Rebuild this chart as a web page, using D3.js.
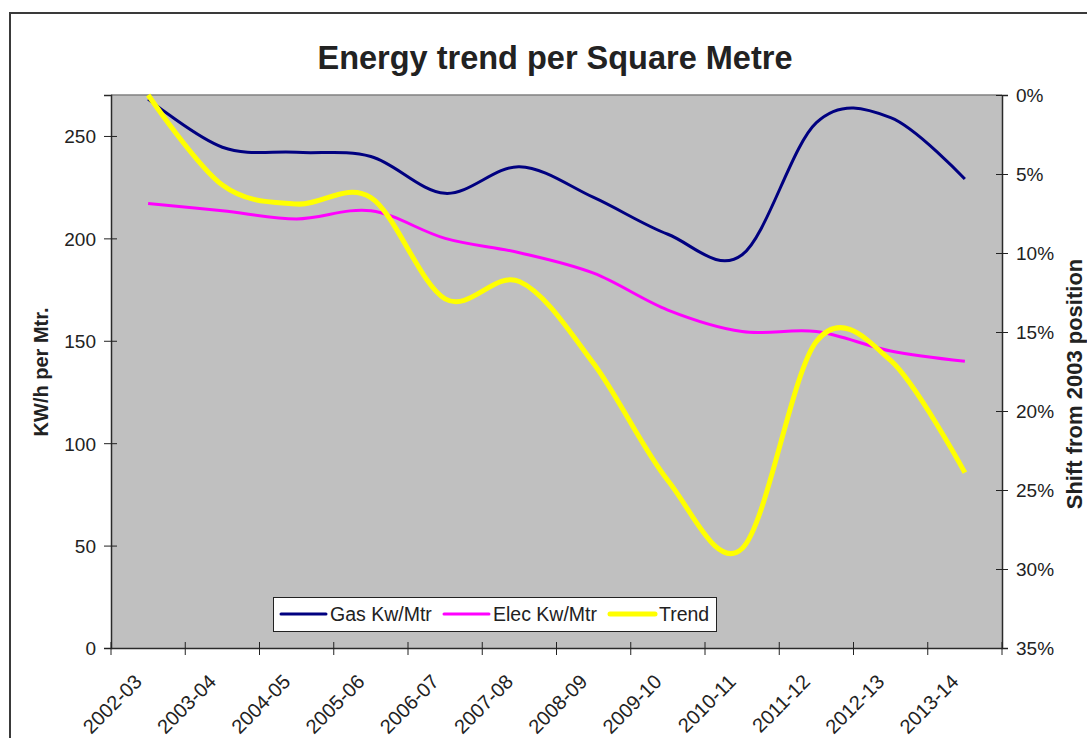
<!DOCTYPE html>
<html>
<head>
<meta charset="utf-8">
<script src="https://cdn.jsdelivr.net/npm/d3@7"></script>
<style>
  body { margin: 0; background: #fff; }
  svg text { font-family: "Liberation Sans", Arial, sans-serif; fill: #222; }
</style>
</head>
<body>
<div id="chart"></div>
<script>
// values
const years = ["2002-03", "2003-04", "2004-05", "2005-06", "2006-07", "2007-08",
               "2008-09", "2009-10", "2010-11", "2011-12", "2012-13", "2013-14"];
const gasKw  = [268, 244.5, 242, 240, 222, 235, 220, 202, 192, 256.5, 259, 229];
const elecKw = [217, 213.5, 209.5, 213.5, 200, 193, 183, 165, 154.5, 154.5, 145, 140];
const trendPct = [0, 5.7, 6.9, 6.5, 12.9, 11.8, 17.0, 24.4, 28.7, 15.6, 16.8, 23.9];
const leftTicks = [0, 50, 100, 150, 200, 250];
const rightTicks = [0, 5, 10, 15, 20, 25, 30, 35];

const width = 1087, height = 738;
const plot = { left: 111, right: 1002, top: 95, bottom: 648 };

const svg = d3.select("#chart").append("svg")
  .attr("width", width)
  .attr("height", height);

// outer chart frame (runs off the right / bottom edge)
svg.append("rect")
  .attr("x", 10).attr("y", 13)
  .attr("width", 1200).attr("height", 900)
  .attr("fill", "#fff")
  .attr("stroke", "#3a3a3a")
  .attr("stroke-width", 2);

svg.append("text")
  .attr("x", 555).attr("y", 69)
  .attr("text-anchor", "middle")
  .attr("font-size", "32.5px")
  .attr("font-weight", "bold")
  .text("Energy trend per Square Metre");

const x = d3.scaleBand().domain(years).range([plot.left, plot.right]);
const yLeft = d3.scaleLinear().domain([0, 270]).range([plot.bottom, plot.top]);
const yRight = d3.scaleLinear().domain([0, 35]).range([plot.top, plot.bottom]);
const cx = d => x(d) + x.bandwidth() / 2;

// plot area
svg.append("rect")
  .attr("x", plot.left).attr("y", plot.top)
  .attr("width", plot.right - plot.left)
  .attr("height", plot.bottom - plot.top)
  .attr("fill", "#c0c0c0");
svg.append("line")
  .attr("x1", plot.left).attr("x2", plot.right)
  .attr("y1", plot.top).attr("y2", plot.top)
  .attr("stroke", "#808080").attr("stroke-width", 1.5);

// left axis
const gLeft = svg.append("g")
  .attr("transform", `translate(${plot.left},0)`)
  .call(d3.axisLeft(yLeft).tickValues(leftTicks).tickSize(7).tickPadding(8));
gLeft.selectAll(".tick line").attr("x1", 6);
gLeft.selectAll(".tick text").attr("font-size", "19px").attr("dy", "0.36em");

// right axis
const gRight = svg.append("g")
  .attr("transform", `translate(${plot.right},0)`)
  .call(d3.axisRight(yRight).tickValues(rightTicks).tickFormat(d => d + "%").tickSize(6).tickPadding(8));
gRight.selectAll(".tick line").attr("x1", -6);
gRight.selectAll(".tick text").attr("font-size", "19px").attr("dy", "0.36em");

// bottom axis: ticks on category boundaries, labels rotated
const gBottom = svg.append("g")
  .attr("transform", `translate(0,${plot.bottom})`)
  .call(d3.axisBottom(x).tickSize(0).tickFormat(""));
const bounds = years.map(d => x(d)).concat([plot.right]);
gBottom.selectAll(".bound")
  .data(bounds)
  .enter().append("line")
  .attr("x1", d => d).attr("x2", d => d)
  .attr("y1", -6).attr("y2", 7)
  .attr("stroke", "#222");
svg.append("g").selectAll("text")
  .data(years)
  .enter().append("text")
  .attr("transform", d => `translate(${cx(d) - 5},683) rotate(-45)`)
  .attr("text-anchor", "end")
  .attr("font-size", "20px")
  .text(d => d);

[gLeft, gRight, gBottom].forEach(g => {
  g.select(".domain").attr("stroke", "#2a2a2a").attr("stroke-width", 1.5);
  g.selectAll(".tick line").attr("stroke", "#222");
  g.selectAll(".tick text").attr("fill", "#222");
});

// series
const curve = d3.curveCardinal.tension(0);
const lineLeft = d3.line().x((d, i) => cx(years[i])).y(d => yLeft(d)).curve(curve);
const lineRight = d3.line().x((d, i) => cx(years[i])).y(d => yRight(d)).curve(curve);

svg.append("path").datum(elecKw)
  .attr("d", lineLeft).attr("fill", "none")
  .attr("stroke", "#ff00ff").attr("stroke-width", 3);
svg.append("path").datum(gasKw)
  .attr("d", lineLeft).attr("fill", "none")
  .attr("stroke", "#000080").attr("stroke-width", 3);
svg.append("path").datum(trendPct)
  .attr("d", lineRight).attr("fill", "none")
  .attr("stroke", "#ffff00").attr("stroke-width", 5)
  .attr("stroke-linejoin", "round");

// axis titles
svg.append("text")
  .attr("transform", "translate(48,372) rotate(-90)")
  .attr("text-anchor", "middle")
  .attr("font-size", "20px")
  .attr("font-weight", "bold")
  .text("KW/h per Mtr.");
svg.append("text")
  .attr("transform", "translate(1082,384) rotate(-90)")
  .attr("text-anchor", "middle")
  .attr("font-size", "22px")
  .attr("font-weight", "bold")
  .text("Shift from 2003 position");

// legend
const legendItems = [
  { name: "Gas Kw/Mtr", colour: "#000080", w: 3, x: 281 },
  { name: "Elec Kw/Mtr", colour: "#ff00ff", w: 3, x: 444 },
  { name: "Trend", colour: "#ffff00", w: 5, x: 610 }
];
const legend = svg.append("g").attr("class", "legend");
legend.append("rect")
  .attr("x", 273.5).attr("y", 597.5)
  .attr("width", 443).attr("height", 34)
  .attr("fill", "#fff").attr("stroke", "#222");
const item = legend.selectAll(".item")
  .data(legendItems)
  .enter().append("g")
  .attr("class", "item");
item.append("line")
  .attr("x1", d => d.x).attr("x2", d => d.x + 45)
  .attr("y1", 614).attr("y2", 614)
  .attr("stroke", d => d.colour)
  .attr("stroke-width", d => d.w)
  .attr("stroke-linecap", "round");
item.append("text")
  .attr("x", d => d.x + 49).attr("y", 620.5)
  .attr("font-size", "19.5px")
  .text(d => d.name);
</script>
</body>
</html>
